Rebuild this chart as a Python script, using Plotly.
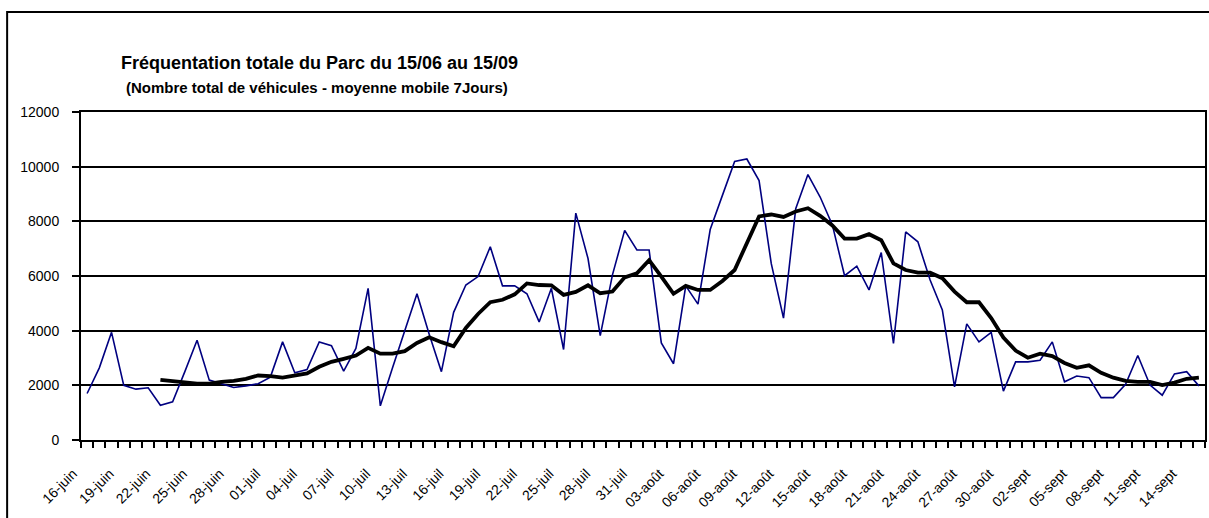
import plotly.graph_objects as go

# Category labels (16/06 -> 15/09)
months = [("juin", 16, 30), ("juil", 1, 31), ("août", 1, 31), ("sept", 1, 15)]
dates = [f"{d:02d}-{m}" for (m, a, b) in months for d in range(a, b + 1)]

# Daily total vehicles
daily = [1700, 2640, 3940, 2000, 1860, 1910, 1270, 1400, 2500, 3650,
         2190, 2060, 1920, 1980, 2060, 2300, 3590, 2460, 2580, 3590,
         3450, 2520, 3350, 5550, 1250, 2640, 3980, 5350, 3870, 2500,
         4670, 5670, 5980, 7070, 5640, 5640, 5350, 4320, 5550, 3310,
         8300, 6640, 3820, 6040, 7670, 6950, 6950, 3550, 2790, 5640,
         4970, 7700, 8950, 10190, 10280, 9490, 6450, 4460, 8460, 9710,
         8890, 7870, 6010, 6360, 5490, 6860, 3530, 7610, 7250, 5850,
         4760, 1940, 4250, 3590, 3940, 1790, 2860, 2860, 2920, 3590,
         2130, 2340, 2280, 1550, 1550, 2040, 3090, 2010, 1640, 2420,
         2500, 1980]

# 7-day moving average
moving_avg = [None, None, None, None, None, None, 2200, 2160, 2130, 2060,
              2060, 2130, 2160, 2240, 2360, 2340, 2280, 2360, 2440, 2680,
              2860, 2970, 3090, 3370, 3160, 3160, 3250, 3550, 3760, 3580,
              3430, 4100, 4610, 5040, 5130, 5330, 5730, 5670, 5660, 5310,
              5420, 5660, 5370, 5430, 5950, 6100, 6580, 5980, 5350, 5640,
              5490, 5490, 5820, 6220, 7190, 8180, 8250, 8160, 8360, 8480,
              8200, 7850, 7370, 7370, 7530, 7310, 6460, 6220, 6120, 6120,
              5920, 5430, 5040, 5040, 4460, 3750, 3270, 3010, 3160, 3070,
              2820, 2640, 2730, 2460, 2280, 2160, 2130, 2130, 2010, 2100,
              2240, 2280]

label_step = 3
y_ticks = [0, 2000, 4000, 6000, 8000, 10000, 12000]
y_tick_text = [str(v) for v in y_ticks]

idx = list(range(len(dates)))

fig = go.Figure()
fig.add_trace(go.Scatter(x=idx, y=daily, mode="lines",
                         line=dict(color="#000080", width=1.6),
                         name="Total", showlegend=False,
                         hovertext=dates))
fig.add_trace(go.Scatter(x=idx, y=moving_avg, mode="lines",
                         line=dict(color="black", width=3.8),
                         name="Moyenne mobile 7 jours", showlegend=False,
                         hovertext=dates))

W, H = 1209, 518
L, R, T, B = 81, 2, 112, 78
pw, ph = W - L - R, H - T - B

def px(x):
    return (x - L) / pw

def py(y):
    return (H - B - y) / ph

FONT = "Liberation Sans, Arial, sans-serif"

fig.update_layout(
    width=W, height=H,
    margin=dict(l=L, r=R, t=T, b=B, pad=0),
    paper_bgcolor="white", plot_bgcolor="white",
    font=dict(family=FONT, color="black", size=14),
    xaxis=dict(
        range=[-0.5, len(dates) - 0.5],
        tickmode="array",
        tickvals=idx[::label_step],
        ticktext=dates[::label_step],
        tickangle=-45,
        ticks="",
        ticklabelstandoff=18,
        ticklabelshift=-14,
        showgrid=False,
        zeroline=False,
        showline=True, linecolor="black", linewidth=2,
        mirror=True,
        tickfont=dict(size=14),
        minor=dict(tickmode="linear", tick0=-0.5, dtick=1,
                   ticks="outside", ticklen=6, tickwidth=1.5,
                   tickcolor="black", showgrid=False),
    ),
    yaxis=dict(
        range=[0, 12000],
        tickmode="array", tickvals=y_ticks, ticktext=y_tick_text,
        ticks="outside", ticklen=7, tickwidth=1.5, tickcolor="black",
        ticklabelstandoff=10,
        showgrid=True, gridcolor="black", gridwidth=1.5,
        zeroline=False,
        showline=True, linecolor="black", linewidth=2,
        mirror=True,
        tickfont=dict(size=14),
    ),
    annotations=[
        dict(text="<b>Fréquentation totale du Parc du 15/06 au 15/09</b>",
             xref="paper", yref="paper", x=px(320), y=py(63),
             xanchor="center", yanchor="middle", showarrow=False,
             font=dict(size=18, family=FONT)),
        dict(text="<b>(Nombre total de véhicules - moyenne mobile 7Jours)</b>",
             xref="paper", yref="paper", x=px(317), y=py(87),
             xanchor="center", yanchor="middle", showarrow=False,
             font=dict(size=15, family=FONT)),
    ],
    shapes=[
        dict(type="rect", xref="paper", yref="paper",
             x0=px(7), x1=px(1215), y0=py(530), y1=py(12),
             line=dict(color="black", width=2), layer="below"),
    ],
)

fig.write_html("out.html",
               config={"displayModeBar": False},
               post_script="document.body.style.margin='0px';")
